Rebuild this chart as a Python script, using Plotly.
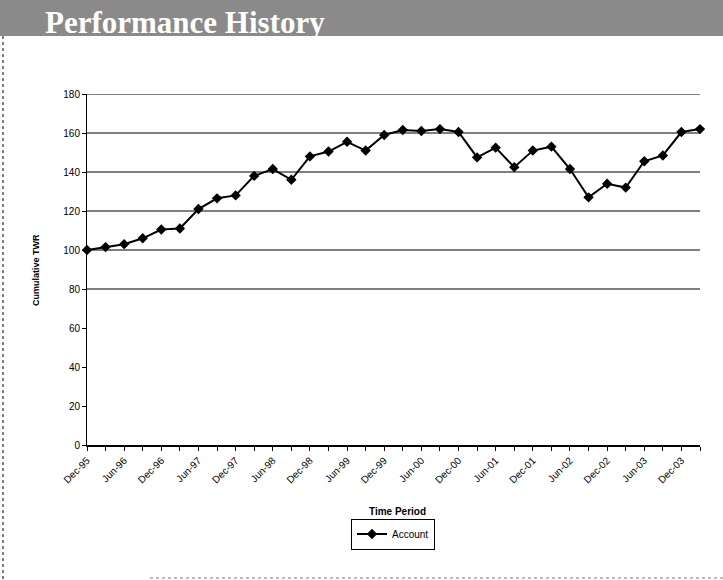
import plotly.graph_objects as go

# ---- data ----
periods = [
    "Dec-95", "Mar-96", "Jun-96", "Sep-96", "Dec-96", "Mar-97", "Jun-97", "Sep-97",
    "Dec-97", "Mar-98", "Jun-98", "Sep-98", "Dec-98", "Mar-99", "Jun-99", "Sep-99",
    "Dec-99", "Mar-00", "Jun-00", "Sep-00", "Dec-00", "Mar-01", "Jun-01", "Sep-01",
    "Dec-01", "Mar-02", "Jun-02", "Sep-02", "Dec-02", "Mar-03", "Jun-03", "Sep-03",
    "Dec-03", "Mar-04",
]
account = [
    100, 101.5, 103, 106, 110.5, 111, 121, 126.5,
    128, 138, 141.5, 136, 148, 150.5, 155.5, 151,
    159, 161.5, 161, 162, 160.5, 147.5, 152.5, 142.5,
    151, 153, 141.5, 127, 134, 132, 145.5, 148.5,
    160.5, 162,
]
tick_labels = [p if (p.startswith("Dec") or p.startswith("Jun")) else "" for p in periods]
y_ticks = [0, 20, 40, 60, 80, 100, 120, 140, 160, 180]
grid_values = [80, 100, 120, 140, 160, 180]

# ---- layout geometry (pixels) ----
W, H = 723, 580
ML, MR, MT, MB = 87, 23, 94, 135
PW, PH = W - ML - MR, H - MT - MB


def px(x):
    return (x - ML) / PW


def py(y):
    return (H - MB - y) / PH


fig = go.Figure()
fig.add_trace(go.Scatter(
    x=periods, y=account, name="Account", mode="lines+markers",
    line=dict(color="black", width=2),
    marker=dict(symbol="diamond", size=8, color="black"),
    cliponaxis=False,
))

shapes = []
# banner
shapes.append(dict(type="rect", xref="paper", yref="paper",
                   x0=px(0), x1=px(W), y0=py(36), y1=py(0),
                   fillcolor="#8a8a8a", line=dict(width=0), layer="below"))
# left dotted border
shapes.append(dict(type="line", xref="paper", yref="paper",
                   x0=px(3), x1=px(3), y0=py(36), y1=py(H),
                   line=dict(color="#555555", width=1.5, dash="dot")))
# bottom dashed border
shapes.append(dict(type="line", xref="paper", yref="paper",
                   x0=px(150), x1=px(W), y0=py(578), y1=py(578),
                   line=dict(color="#777777", width=1, dash="dot")))
# horizontal gridlines
for g in grid_values:
    shapes.append(dict(type="line", xref="paper", yref="y",
                       x0=0, x1=1, y0=g, y1=g,
                       line=dict(color="black", width=1.2), layer="below"))

annotations = [
    dict(text="<b>Performance History</b>", xref="paper", yref="paper",
         x=px(43), y=py(22), xanchor="left", yanchor="middle", showarrow=False,
         font=dict(family="Liberation Serif, Times New Roman, serif", size=31, color="white")),
    dict(text="<b>Cumulative TWR</b>", xref="paper", yref="paper",
         x=px(36), y=py(270), xanchor="center", yanchor="middle", textangle=-90,
         showarrow=False, font=dict(family="Liberation Sans, Arial", size=9, color="black")),
    dict(text="<b>Time Period</b>", xref="paper", yref="paper",
         x=px(397), y=py(511), xanchor="center", yanchor="middle",
         showarrow=False, font=dict(family="Liberation Sans, Arial", size=10, color="black")),
]

fig.update_layout(
    width=W, height=H,
    margin=dict(l=ML, r=MR, t=MT, b=MB),
    paper_bgcolor="white", plot_bgcolor="white",
    font=dict(family="Liberation Sans, Arial", size=10, color="black"),
    showlegend=True,
    legend=dict(x=px(393), y=py(534), xanchor="center", yanchor="middle",
                bordercolor="black", borderwidth=1, bgcolor="white",
                font=dict(size=10), itemwidth=30),
    shapes=shapes,
    annotations=annotations,
    xaxis=dict(
        type="category", categoryorder="array", categoryarray=periods,
        range=[0, len(periods) - 1],
        tickmode="array", tickvals=periods, ticktext=tick_labels,
        tickangle=-45, ticks="outside", ticklen=4, tickcolor="black",
        showline=True, linecolor="black", linewidth=1.5,
        showgrid=False, zeroline=False,
        tickfont=dict(size=10),
    ),
    yaxis=dict(
        range=[0, 180], tickmode="array", tickvals=y_ticks,
        ticks="outside", ticklen=4, tickcolor="black",
        showline=True, linecolor="black", linewidth=1,
        showgrid=False, zeroline=False,
        tickfont=dict(size=10),
    ),
)

fig.write_html("out.html", config={"displayModeBar": False},
               post_script="document.body.style.margin='0';")
